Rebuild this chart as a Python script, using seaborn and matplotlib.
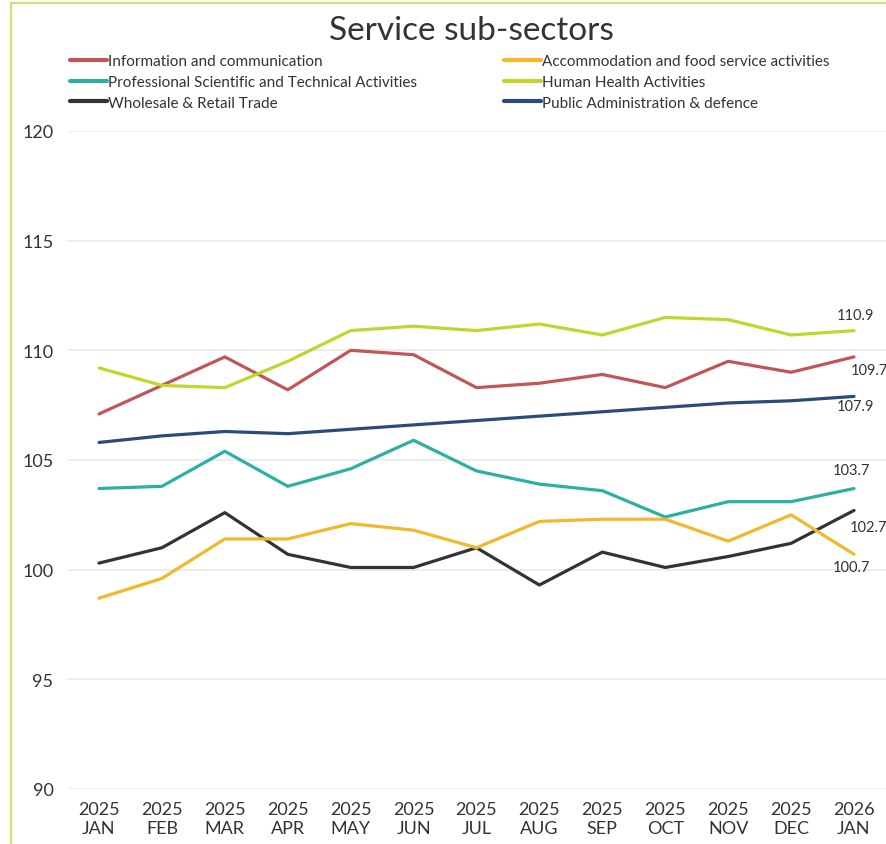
import matplotlib
matplotlib.use("Agg")
import matplotlib.pyplot as plt
import seaborn as sns
import pandas as pd
from matplotlib.patches import Rectangle

months = ["2025\nJAN", "2025\nFEB", "2025\nMAR", "2025\nAPR", "2025\nMAY", "2025\nJUN",
          "2025\nJUL", "2025\nAUG", "2025\nSEP", "2025\nOCT", "2025\nNOV", "2025\nDEC", "2026\nJAN"]

info_comm = [107.1, 108.4, 109.7, 108.2, 110.0, 109.8, 108.3, 108.5, 108.9, 108.3, 109.5, 109.0, 109.7]
accommodation = [98.7, 99.6, 101.4, 101.4, 102.1, 101.8, 101.0, 102.2, 102.3, 102.3, 101.3, 102.5, 100.7]
professional = [103.7, 103.8, 105.4, 103.8, 104.6, 105.9, 104.5, 103.9, 103.6, 102.4, 103.1, 103.1, 103.7]
health = [109.2, 108.4, 108.3, 109.5, 110.9, 111.1, 110.9, 111.2, 110.7, 111.5, 111.4, 110.7, 110.9]
wholesale = [100.3, 101.0, 102.6, 100.7, 100.1, 100.1, 101.0, 99.3, 100.8, 100.1, 100.6, 101.2, 102.7]
public_admin = [105.8, 106.1, 106.3, 106.2, 106.4, 106.6, 106.8, 107.0, 107.2, 107.4, 107.6, 107.7, 107.9]

series = {
    "Information and communication": info_comm,
    "Accommodation and food service activities": accommodation,
    "Professional Scientific and Technical Activities": professional,
    "Human Health Activities": health,
    "Wholesale & Retail Trade": wholesale,
    "Public Administration & defence": public_admin,
}
colors = {
    "Information and communication": "#c25555",
    "Accommodation and food service activities": "#f2b82c",
    "Professional Scientific and Technical Activities": "#2bb0a3",
    "Human Health Activities": "#c3d42c",
    "Wholesale & Retail Trade": "#333333",
    "Public Administration & defence": "#2c4a7c",
}
left_col = ["Information and communication",
            "Professional Scientific and Technical Activities",
            "Wholesale & Retail Trade"]
right_col = ["Accommodation and food service activities",
             "Human Health Activities",
             "Public Administration & defence"]
hue_order = left_col + right_col

rows = []
for name, vals in series.items():
    for i, v in enumerate(vals):
        rows.append({"x": i, "value": v, "series": name})
df = pd.DataFrame(rows)

sns.set_theme(style="white")
plt.rcParams["font.family"] = ["Lato", "DejaVu Sans"]

W, H = 887, 845
fig = plt.figure(figsize=(W / 100, H / 100), dpi=100)
ax = fig.add_axes([68 / W, (H - 790) / H, (887 - 68) / W, (790 - 132) / H])

sns.lineplot(data=df, x="x", y="value", hue="series", hue_order=hue_order,
             palette=colors, linewidth=2.3, ax=ax, legend=True, sort=False)

x0, x12 = 99, 854
step = (x12 - x0) / 12
ax.set_xlim((68 - x0) / step, (887 - x0) / step)
ax.set_ylim(90, 120)
ax.set_yticks([90, 95, 100, 105, 110, 115, 120])
ax.set_xticks(range(len(months)))
ax.set_xticklabels(months, fontsize=13, color="#333333", linespacing=1.2)
ax.tick_params(axis="y", labelsize=13, labelcolor="#333333", pad=10.5, length=0)
ax.tick_params(axis="x", pad=9, length=0)
ax.set_xlabel("")
ax.set_ylabel("")
ax.grid(axis="y", color="#ececec", linewidth=1.3)
ax.grid(axis="x", visible=False)
for s in ax.spines.values():
    s.set_visible(False)

# end labels (offsets in pixels from the last point)
last = 12
end_labels = [
    (health[-1], -17, 16),
    (info_comm[-1], -3, -13),
    (public_admin[-1], -17, -10),
    (professional[-1], -21, 19),
    (wholesale[-1], -4, -17),
    (accommodation[-1], -21, -13),
]
for val, dx, dy in end_labels:
    ax.annotate(f"{val:.1f}", (last, val), xytext=(dx, dy), textcoords="offset pixels",
                ha="left", va="center", fontsize=10.5, color="#333333", annotation_clip=False)

# legend: two columns, placed as two legends
handles, labels = ax.get_legend_handles_labels()
ax.legend_.remove()
hmap = dict(zip(labels, handles))
common = dict(loc="upper left", frameon=False, fontsize=11, handlelength=2.4,
              handletextpad=0.1, labelspacing=0.45, borderaxespad=0, borderpad=0)
leg1 = fig.legend([hmap[k] for k in left_col], left_col,
                  bbox_to_anchor=(70 / W, 1 - 55 / H), **common)
leg2 = fig.legend([hmap[k] for k in right_col], right_col,
                  bbox_to_anchor=(504 / W, 1 - 55 / H), **common)
for leg in (leg1, leg2):
    for t in leg.get_texts():
        t.set_color("#333333")
    for l in leg.get_lines():
        l.set_linewidth(3)

fig.text(471 / W, 1 - 40 / H, "Service sub-sectors", ha="center", va="baseline",
         fontsize=24, color="#333333")

# thin yellow-green frame on left & top
fig.add_artist(Rectangle((11 / W, -0.01), 1.0, 1 - 4 / H + 0.01, transform=fig.transFigure,
                         fill=False, edgecolor="#d7df6a", linewidth=1.5))

fig.savefig("out.png", dpi=100, facecolor="white")
